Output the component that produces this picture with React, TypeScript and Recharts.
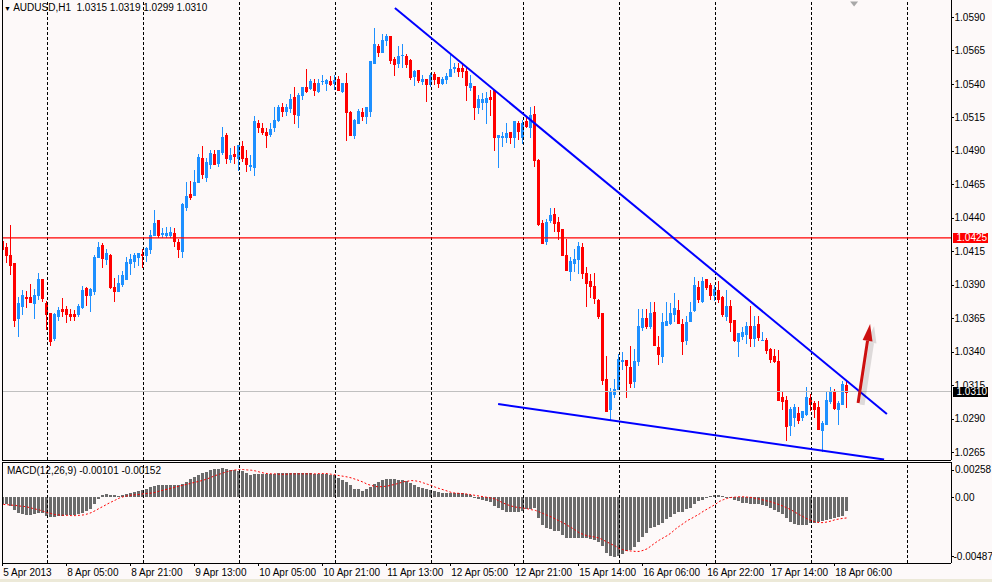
import React from 'react';
import { ComposedChart, Bar, Line, XAxis, YAxis, ReferenceLine, ReferenceDot } from 'recharts';

const FONT = '"Liberation Sans", Arial, sans-serif';
const BULL = '#1e90ff';
const BEAR = '#ff0000';
const BG = '#fdf9f9';
const FRAME = { stroke: '#000', shapeRendering: 'crispEdges' };

// AUDUSD H1 candles, oldest first
const opens = [
  1.0423, 1.04185, 1.0412, 1.04065, 1.0365, 1.03745, 1.0381, 1.0381, 1.0376, 1.03825,
  1.0394, 1.03765, 1.0369, 1.035, 1.0367, 1.0372, 1.0372, 1.03685, 1.0368, 1.0368,
  1.03735, 1.03875, 1.03825, 1.0385, 1.0411, 1.042, 1.0409, 1.04125, 1.03885, 1.0385,
  1.03905, 1.03945, 1.0406, 1.0408, 1.0411, 1.0413, 1.0412, 1.0417, 1.0427, 1.0438,
  1.0428, 1.0427, 1.0427, 1.0429, 1.0422, 1.04155, 1.0448, 1.0458, 1.0457, 1.0467,
  1.0485, 1.04705, 1.04805, 1.0488, 1.0481, 1.04895, 1.0502, 1.0484, 1.0488, 1.0485,
  1.0494, 1.0485, 1.0479, 1.0478, 1.0511, 1.0507, 1.0504, 1.05025, 1.05075, 1.0513,
  1.05225, 1.05195, 1.0522, 1.053, 1.0517, 1.0532, 1.0538, 1.0537, 1.0541, 1.0535,
  1.0542, 1.0541, 1.05425, 1.05405, 1.0544, 1.0535, 1.0541, 1.0519, 1.0502, 1.0511,
  1.0519, 1.0516, 1.052, 1.0556, 1.05685, 1.0564, 1.05725, 1.0576, 1.0559, 1.05555,
  1.05615, 1.0561, 1.0558, 1.0546, 1.05505, 1.05425, 1.05435, 1.054, 1.05475, 1.0545,
  1.05405, 1.05435, 1.0546, 1.0552, 1.0552, 1.0552, 1.055, 1.0538, 1.05385, 1.05225,
  1.05265, 1.05265, 1.053, 1.05355, 1.05, 1.05, 1.05, 1.0504, 1.05, 1.05105,
  1.05, 1.0512, 1.0508, 1.05175, 1.0483, 1.0436, 1.0423, 1.0438, 1.0443, 1.0437,
  1.04315, 1.0412, 1.04005, 1.04065, 1.0409, 1.04185, 1.03985, 1.0393, 1.0389, 1.03785,
  1.0369, 1.03195, 1.0297, 1.03085, 1.0312, 1.0333, 1.03335, 1.03285, 1.0318, 1.0333,
  1.03585, 1.03655, 1.03595, 1.03695, 1.03435, 1.03365, 1.036, 1.03615, 1.03685, 1.03715,
  1.03605, 1.0349, 1.0363, 1.0371, 1.03885, 1.0378, 1.0394, 1.03895, 1.0382, 1.0386,
  1.03805, 1.0367, 1.0374, 1.03635, 1.0348, 1.0352, 1.0353, 1.0359, 1.03505, 1.03605,
  1.03485, 1.03485, 1.0342, 1.03365, 1.0333, 1.03065, 1.0304, 1.02855, 1.02915, 1.0294,
  1.0291, 1.02935, 1.03055, 1.0302, 1.02985, 1.02815, 1.0286, 1.0303, 1.03105, 1.02975,
  1.0301, 1.0315,
];

const highs = [
  1.0425, 1.0421, 1.0435, 1.04065, 1.03805, 1.0386, 1.03855, 1.03905, 1.0387, 1.03985,
  1.0394, 1.0378, 1.0369, 1.0369, 1.03735, 1.038, 1.0374, 1.0372, 1.0371, 1.03755,
  1.0389, 1.0388, 1.03875, 1.0412, 1.0422, 1.0421, 1.0417, 1.0413, 1.0395, 1.0397,
  1.04005, 1.04105, 1.0413, 1.04135, 1.0414, 1.0417, 1.0418, 1.0431, 1.0446, 1.0438,
  1.04325, 1.0433, 1.04335, 1.04325, 1.0424, 1.0451, 1.0467, 1.04675, 1.0476, 1.0488,
  1.0494, 1.0485, 1.04905, 1.0491, 1.0491, 1.0508, 1.0503, 1.0492, 1.0494, 1.04945,
  1.04975, 1.0491, 1.0487, 1.0516, 1.0513, 1.05105, 1.0507, 1.0511, 1.0523, 1.0524,
  1.0526, 1.0525, 1.05325, 1.0538, 1.0533, 1.0538, 1.05515, 1.0544, 1.0544, 1.0544,
  1.0547, 1.0544, 1.0546, 1.0547, 1.0546, 1.0541, 1.05485, 1.052, 1.0514, 1.0521,
  1.0522, 1.05225, 1.05575, 1.0582, 1.057, 1.05775, 1.05775, 1.0576, 1.056, 1.05685,
  1.057, 1.0562, 1.05585, 1.05505, 1.05505, 1.05465, 1.05435, 1.0548, 1.0549, 1.05455,
  1.05455, 1.0548, 1.05615, 1.05555, 1.0556, 1.05555, 1.0553, 1.05465, 1.05385, 1.05315,
  1.05335, 1.0534, 1.05355, 1.05355, 1.05015, 1.0504, 1.05105, 1.0504, 1.05125, 1.05125,
  1.0513, 1.0516, 1.05225, 1.05235, 1.0484, 1.0438, 1.0439, 1.0447, 1.0447, 1.04405,
  1.0432, 1.04245, 1.0411, 1.04165, 1.0422, 1.0421, 1.04035, 1.0398, 1.03985, 1.0379,
  1.0369, 1.03365, 1.0313, 1.03195, 1.03385, 1.03395, 1.03335, 1.03445, 1.0342, 1.0372,
  1.0372, 1.0372, 1.0377, 1.0377, 1.0352, 1.0369, 1.0377, 1.03765, 1.03835, 1.03785,
  1.03645, 1.0367, 1.0377, 1.0396, 1.0393, 1.0396, 1.03945, 1.03915, 1.039, 1.0393,
  1.03815, 1.0386, 1.03785, 1.03635, 1.0354, 1.03585, 1.0362, 1.03745, 1.0367, 1.0367,
  1.03545, 1.03505, 1.0343, 1.0342, 1.0341, 1.031, 1.0307, 1.02985, 1.0301, 1.02985,
  1.02955, 1.03135, 1.03085, 1.03035, 1.03035, 1.02885, 1.031, 1.03135, 1.0312, 1.03035,
  1.0318, 1.0319,
];

const lows = [
  1.0414, 1.0407, 1.0398, 1.0359, 1.03518, 1.0368, 1.03735, 1.0377, 1.0365, 1.0379,
  1.03775, 1.0357, 1.0345, 1.0349, 1.03635, 1.0367, 1.03625, 1.03635, 1.0364, 1.0367,
  1.0373, 1.0375, 1.03705, 1.0383, 1.04105, 1.0403, 1.04055, 1.03875, 1.03775, 1.0385,
  1.0389, 1.0394, 1.0398, 1.0403, 1.0405, 1.0403, 1.0408, 1.0414, 1.0427, 1.0426,
  1.0426, 1.04255, 1.04255, 1.0419, 1.0411, 1.0411, 1.0446, 1.0454, 1.0457, 1.0467,
  1.047, 1.04675, 1.04775, 1.048, 1.0479, 1.0488, 1.0481, 1.0482, 1.0481, 1.0476,
  1.04825, 1.0475, 1.0476, 1.0472, 1.0504, 1.05025, 1.0493, 1.0501, 1.0505, 1.05125,
  1.0516, 1.0517, 1.0519, 1.0511, 1.05075, 1.0529, 1.0534, 1.0536, 1.0532, 1.0534,
  1.054, 1.05355, 1.05395, 1.0536, 1.05355, 1.0534, 1.0498, 1.0502, 1.04995, 1.0511,
  1.0513, 1.0511, 1.0516, 1.05555, 1.0561, 1.05635, 1.0569, 1.0556, 1.0547, 1.05525,
  1.05525, 1.0553, 1.05435, 1.0539, 1.05415, 1.054, 1.0527, 1.05385, 1.054, 1.0538,
  1.054, 1.0541, 1.0546, 1.0549, 1.0546, 1.05455, 1.0528, 1.05355, 1.05135, 1.05185,
  1.05215, 1.05105, 1.0517, 1.04905, 1.0478, 1.0494, 1.0497, 1.0496, 1.0493, 1.0499,
  1.0496, 1.0508, 1.05005, 1.04785, 1.0435, 1.04215, 1.04205, 1.0437, 1.043, 1.0424,
  1.0412, 1.0401, 1.03935, 1.04, 1.03985, 1.0395, 1.0374, 1.0381, 1.0376, 1.03655,
  1.0316, 1.02955, 1.0289, 1.0306, 1.0312, 1.0327, 1.0306, 1.03135, 1.03135, 1.033,
  1.0356, 1.0358, 1.0358, 1.0345, 1.0331, 1.03325, 1.036, 1.03605, 1.0363, 1.03615,
  1.03385, 1.0346, 1.0363, 1.03705, 1.0377, 1.0377, 1.0387, 1.0379, 1.03785, 1.0377,
  1.0367, 1.03635, 1.03555, 1.0348, 1.0337, 1.03495, 1.03465, 1.03445, 1.03445, 1.0349,
  1.03485, 1.0339, 1.0332, 1.0332, 1.0304, 1.0297, 1.0274, 1.0278, 1.02845, 1.0287,
  1.0289, 1.0293, 1.02965, 1.02915, 1.02825, 1.02655, 1.0286, 1.0302, 1.02975, 1.0286,
  1.0301, 1.0299,
];

const closes = [
  1.0417, 1.0412, 1.0405, 1.0364, 1.03765, 1.03825, 1.038, 1.0377, 1.03825, 1.0394,
  1.038, 1.0368, 1.0348, 1.0368, 1.0371, 1.03705, 1.03685, 1.0367, 1.0367, 1.03745,
  1.0386, 1.0382, 1.03865, 1.04105, 1.04185, 1.041, 1.04135, 1.03885, 1.03855, 1.03915,
  1.0397, 1.0407, 1.0409, 1.0412, 1.04135, 1.0412, 1.04175, 1.0427, 1.0436, 1.0427,
  1.0429, 1.0429, 1.04295, 1.04225, 1.0417, 1.045, 1.0456, 1.04555, 1.0467, 1.04855,
  1.04725, 1.0482, 1.04885, 1.04805, 1.0491, 1.05005, 1.0485, 1.0487, 1.0486, 1.04945,
  1.0485, 1.04805, 1.04795, 1.0512, 1.05075, 1.0504, 1.0502, 1.05065, 1.0513, 1.0523,
  1.052, 1.0523, 1.0529, 1.05175, 1.0532, 1.05375, 1.0535, 1.05425, 1.05355, 1.0541,
  1.05425, 1.0543, 1.054, 1.0543, 1.05355, 1.05405, 1.0519, 1.0502, 1.0513, 1.052,
  1.0516, 1.05225, 1.05575, 1.057, 1.0564, 1.05725, 1.05755, 1.0558, 1.0555, 1.0561,
  1.05615, 1.0555, 1.05455, 1.055, 1.0543, 1.0544, 1.054, 1.0547, 1.05435, 1.05405,
  1.05435, 1.0546, 1.05515, 1.05525, 1.055, 1.055, 1.0539, 1.05405, 1.05225, 1.05285,
  1.05285, 1.05295, 1.0529, 1.05, 1.05015, 1.0501, 1.05035, 1.05, 1.0512, 1.0505,
  1.0511, 1.05085, 1.05165, 1.0483, 1.04355, 1.04215, 1.0437, 1.0442, 1.0436, 1.043,
  1.0412, 1.0401, 1.0408, 1.0409, 1.0419, 1.03985, 1.03915, 1.0389, 1.038, 1.0367,
  1.0319, 1.02955, 1.031, 1.03125, 1.03345, 1.0334, 1.033, 1.03165, 1.0333, 1.0359,
  1.03655, 1.0359, 1.0369, 1.0345, 1.03385, 1.0362, 1.0363, 1.0369, 1.0373, 1.03615,
  1.0348, 1.03625, 1.03695, 1.03895, 1.0379, 1.0393, 1.03885, 1.0382, 1.03865, 1.0379,
  1.03685, 1.03745, 1.0362, 1.03485, 1.0354, 1.03545, 1.03595, 1.03505, 1.03595, 1.0351,
  1.0349, 1.03415, 1.03345, 1.0333, 1.0304, 1.0303, 1.02845, 1.02975, 1.02985, 1.0289,
  1.02955, 1.03065, 1.0301, 1.0297, 1.02825, 1.02865, 1.0304, 1.03105, 1.0298, 1.03015,
  1.03155, 1.031,
];

// MACD(12,26,9): main (histogram) and signal (dotted)
const macdMain = [
  -47e-5, -52e-5, -64e-5, -96e-5, -113e-5, -120e-5, -128e-5, -133e-5, -125e-5, -118e-5,
  -113e-5, -135e-5, -145e-5, -145e-5, -140e-5, -135e-5, -133e-5, -133e-5, -130e-5, -125e-5,
  -118e-5, -101e-5, -84e-5, -47e-5, -15e-5, 17e-5, 27e-5, 15e-5, 15e-5, 12e-5,
  17e-5, 22e-5, 30e-5, 37e-5, 47e-5, 54e-5, 61e-5, 74e-5, 86e-5, 93e-5,
  93e-5, 93e-5, 93e-5, 91e-5, 89e-5, 101e-5, 116e-5, 135e-5, 150e-5, 170e-5,
  180e-5, 189e-5, 204e-5, 209e-5, 214e-5, 219e-5, 214e-5, 207e-5, 204e-5, 199e-5,
  194e-5, 182e-5, 170e-5, 175e-5, 177e-5, 177e-5, 177e-5, 177e-5, 177e-5, 180e-5,
  180e-5, 182e-5, 182e-5, 180e-5, 180e-5, 180e-5, 180e-5, 180e-5, 177e-5, 177e-5,
  177e-5, 177e-5, 165e-5, 165e-5, 145e-5, 133e-5, 116e-5, 89e-5, 64e-5, 59e-5,
  47e-5, 59e-5, 76e-5, 96e-5, 116e-5, 128e-5, 140e-5, 138e-5, 135e-5, 133e-5,
  128e-5, 120e-5, 108e-5, 89e-5, 79e-5, 71e-5, 59e-5, 54e-5, 47e-5, 37e-5,
  30e-5, 30e-5, 30e-5, 32e-5, 32e-5, 30e-5, 27e-5, 15e-5, -7e-5, -15e-5,
  -22e-5, -27e-5, -32e-5, -64e-5, -81e-5, -96e-5, -106e-5, -108e-5, -108e-5, -108e-5,
  -101e-5, -84e-5, -89e-5, -81e-5, -150e-5, -204e-5, -224e-5, -236e-5, -248e-5, -253e-5,
  -280e-5, -302e-5, -302e-5, -298e-5, -302e-5, -302e-5, -302e-5, -310e-5, -317e-5, -334e-5,
  -364e-5, -416e-5, -433e-5, -445e-5, -433e-5, -420e-5, -401e-5, -391e-5, -371e-5, -334e-5,
  -293e-5, -266e-5, -229e-5, -219e-5, -204e-5, -187e-5, -162e-5, -143e-5, -125e-5, -108e-5,
  -106e-5, -89e-5, -76e-5, -52e-5, -27e-5, -20e-5, -7e-5, 7e-5, 17e-5, 17e-5,
  12e-5, 5e-5, -5e-5, -17e-5, -27e-5, -39e-5, -44e-5, -47e-5, -52e-5, -52e-5,
  -57e-5, -64e-5, -76e-5, -91e-5, -106e-5, -125e-5, -155e-5, -182e-5, -194e-5, -204e-5,
  -204e-5, -202e-5, -192e-5, -187e-5, -180e-5, -172e-5, -165e-5, -157e-5, -150e-5, -143e-5,
  -138e-5, -101e-5,
];

const macdSignal = [
  -52e-5, -54e-5, -57e-5, -59e-5, -64e-5, -66e-5, -71e-5, -79e-5, -86e-5, -93e-5,
  -103e-5, -113e-5, -120e-5, -128e-5, -130e-5, -133e-5, -133e-5, -135e-5, -135e-5, -133e-5,
  -130e-5, -123e-5, -113e-5, -98e-5, -81e-5, -66e-5, -49e-5, -34e-5, -20e-5, -5e-5,
  5e-5, 12e-5, 17e-5, 20e-5, 22e-5, 27e-5, 30e-5, 32e-5, 37e-5, 47e-5,
  54e-5, 61e-5, 69e-5, 76e-5, 84e-5, 91e-5, 98e-5, 106e-5, 113e-5, 120e-5,
  128e-5, 138e-5, 150e-5, 162e-5, 172e-5, 182e-5, 192e-5, 199e-5, 204e-5, 207e-5,
  207e-5, 204e-5, 202e-5, 197e-5, 189e-5, 182e-5, 177e-5, 175e-5, 175e-5, 172e-5,
  172e-5, 172e-5, 175e-5, 175e-5, 175e-5, 175e-5, 175e-5, 175e-5, 175e-5, 177e-5,
  177e-5, 177e-5, 172e-5, 167e-5, 162e-5, 157e-5, 152e-5, 145e-5, 135e-5, 125e-5,
  113e-5, 98e-5, 89e-5, 81e-5, 79e-5, 81e-5, 84e-5, 91e-5, 98e-5, 106e-5,
  116e-5, 120e-5, 125e-5, 123e-5, 118e-5, 108e-5, 98e-5, 89e-5, 76e-5, 66e-5,
  57e-5, 47e-5, 37e-5, 32e-5, 30e-5, 27e-5, 25e-5, 20e-5, 15e-5, 10e-5,
  5e-5, 0, -5e-5, -12e-5, -27e-5, -42e-5, -54e-5, -64e-5, -71e-5, -76e-5,
  -79e-5, -84e-5, -91e-5, -96e-5, -108e-5, -120e-5, -133e-5, -145e-5, -160e-5, -175e-5,
  -189e-5, -207e-5, -224e-5, -243e-5, -263e-5, -275e-5, -285e-5, -290e-5, -295e-5, -302e-5,
  -317e-5, -332e-5, -347e-5, -361e-5, -379e-5, -389e-5, -396e-5, -398e-5, -401e-5, -401e-5,
  -393e-5, -381e-5, -359e-5, -337e-5, -317e-5, -300e-5, -283e-5, -263e-5, -236e-5, -214e-5,
  -194e-5, -172e-5, -157e-5, -140e-5, -123e-5, -103e-5, -86e-5, -69e-5, -52e-5, -30e-5,
  -17e-5, -7e-5, 0, 2e-5, 5e-5, 5e-5, 2e-5, 0, -7e-5, -12e-5,
  -20e-5, -27e-5, -34e-5, -44e-5, -54e-5, -66e-5, -79e-5, -93e-5, -111e-5, -128e-5,
  -143e-5, -160e-5, -172e-5, -182e-5, -187e-5, -187e-5, -182e-5, -175e-5, -165e-5, -160e-5,
  -155e-5, -152e-5,
];

// time axis: bar index of each label
const timeTickBars = [0, 16, 32, 48, 64, 80, 96, 112, 128, 144, 160, 176, 192, 208];
const timeTickLabels = [
  '5 Apr 2013', '8 Apr 05:00', '8 Apr 21:00', '9 Apr 13:00', '10 Apr 05:00', '10 Apr 21:00',
  '11 Apr 13:00', '12 Apr 05:00', '12 Apr 21:00', '15 Apr 14:00', '16 Apr 06:00',
  '16 Apr 22:00', '17 Apr 14:00', '18 Apr 06:00',
];
const gridBars = [11, 35, 59, 83, 107, 130, 154, 178, 202, 226];

const priceTicks = [
  1.0265, 1.029, 1.0315, 1.034, 1.0365, 1.039, 1.0415, 1.044, 1.0465, 1.049, 1.0515, 1.054,
  1.0565, 1.059,
];
const resistanceLevel = 1.0425;
const lastClose = closes[closes.length - 1];

const macdTicks = [0.00258, 0, -0.00487];
const macdTickLabels = ['0.00258', '0.00', '-0.00487'];

// hand-drawn objects, in bar index / price
const upperTrend = [{ x: 97.9, y: 1.05967 }, { x: 220.9, y: 1.02934 }];
const lowerTrend = [{ x: 123.7, y: 1.03009 }, { x: 220.2, y: 1.02594 }];
const arrowSegment = [{ x: 213.7, y: 1.03017 }, { x: 216.7, y: 1.03607 }];
const shiftMarker = { x: 212.7, y: 1.05997 };

const xDomain = [-0.325, 236.925];
const priceDomain = [1.02591, 1.06027];
const macdDomain = [-0.00487, 0.00263];

const rows = closes.map((close, i) => ({
  i,
  open: opens[i],
  high: highs[i],
  low: lows[i],
  close,
  range: [lows[i], highs[i]],
  macd: macdMain[i],
  signal: macdSignal[i],
}));

function Candle(props: any) {
  const { x, y, width, height, payload } = props;
  if (x == null || y == null || !payload) return null;
  const { open, close, high, low } = payload;
  const top = Math.min(y, y + height);
  const bottom = Math.max(y, y + height);
  const span = high - low;
  const toY = (p: number) => (span === 0 ? top : top + ((high - p) / span) * (bottom - top));
  const color = close >= open ? BULL : BEAR;
  const x0 = Math.round(x + width / 2 - 1.5);
  const wt = Math.round(top);
  const wb = Math.round(bottom);
  const b1 = Math.round(toY(Math.max(open, close)));
  const b2 = Math.round(toY(Math.min(open, close)));
  return (
    <g shapeRendering="crispEdges">
      <rect x={x0 + 1} y={wt} width={1} height={Math.max(1, wb - wt + 1)} fill={color} />
      <rect x={x0} y={b1} width={3} height={Math.max(1, b2 - b1 + 1)} fill={color} />
    </g>
  );
}

function MacdBar(props: any) {
  const { x, y, width, height } = props;
  if (x == null || y == null) return null;
  const top = Math.round(Math.min(y, y + height));
  const bottom = Math.round(Math.max(y, y + height));
  const x0 = Math.round(x + width / 2 - 1.5);
  return (
    <rect x={x0} y={top} width={3} height={Math.max(1, bottom - top)} fill="#6b6b6b" shapeRendering="crispEdges" />
  );
}

function PriceTick(props: any) {
  const { x, y, payload } = props;
  const v = payload.value;
  const label = v.toFixed(4);
  const isLevel = Math.abs(v - resistanceLevel) < 1e-7;
  const isLast = Math.abs(v - lastClose) < 1e-7;
  if (isLevel || isLast) {
    return (
      <g>
        <rect x={x - 1} y={Math.round(y) - 5} width={35} height={10} fill={isLevel ? '#ff0000' : '#000000'} />
        <text x={x + 2.5} y={y + 3.6} fill="#ffffff" fontSize={10} fontFamily={FONT}>
          {label}
        </text>
      </g>
    );
  }
  const yy = Math.round(y) + 0.5;
  return (
    <g>
      <line x1={x - 3} x2={x} y1={yy} y2={yy} stroke="#000" />
      <text x={x + 0.5} y={y + 3.6} fill="#000" fontSize={10} fontFamily={FONT}>
        {label}
      </text>
    </g>
  );
}

function MacdTick(props: any) {
  const { x, y, payload } = props;
  const k = macdTicks.indexOf(payload.value);
  // MT4 pulls the extreme labels inside the window
  const shift = k === 0 ? 7 : k === macdTicks.length - 1 ? -7 : 0;
  const yy = Math.round(y + shift) + 0.5;
  return (
    <g>
      <line x1={x - 3} x2={x} y1={yy} y2={yy} stroke="#000" />
      <text x={payload.value < 0 ? x - 0.5 : x + 1} y={y + shift + 3.6} fill="#000" fontSize={10} fontFamily={FONT}>
        {macdTickLabels[k]}
      </text>
    </g>
  );
}

function TimeTick(props: any) {
  const { x, y, payload } = props;
  const k = timeTickBars.indexOf(payload.value);
  const xx = Math.round(x) - 0.5;
  return (
    <g>
      <line x1={xx} x2={xx} y1={y - 4} y2={y - 1} stroke="#000" />
      <text x={x} y={y + 9} fill="#000" fontSize={10} fontFamily={FONT}>
        {timeTickLabels[k]}
      </text>
    </g>
  );
}

function Arrow(props: any) {
  const { x1, y1, x2, y2 } = props;
  if (x1 == null) return null;
  const ang = Math.atan2(y2 - y1, x2 - x1);
  const head = 17;
  const half = 5;
  const bx = x2 - head * Math.cos(ang);
  const by = y2 - head * Math.sin(ang);
  const px = -Math.sin(ang) * half;
  const py = Math.cos(ang) * half;
  const draw = (dx: number, dy: number, color: string, w: number) => (
    <g>
      <line x1={x1 + dx} y1={y1 + dy} x2={bx + dx} y2={by + dy} stroke={color} strokeWidth={w} />
      <polygon
        points={`${x2 + dx},${y2 + dy} ${bx + px + dx},${by + py + dy} ${bx - px + dx},${by - py + dy}`}
        fill={color}
      />
    </g>
  );
  return (
    <g>
      {draw(4, 2, 'rgba(0,0,0,0.12)', 5)}
      {draw(0, 0, '#cc1010', 3)}
    </g>
  );
}

function ShiftMarker(props: any) {
  const { cx, cy } = props;
  if (cx == null) return null;
  return <polygon points={`${cx - 4},${cy - 2.5} ${cx + 4},${cy - 2.5} ${cx},${cy + 2.5}`} fill="#a8a8a8" />;
}

export default function App() {
  return (
    <div style={{ position: 'absolute', left: 0, top: 0, width: 992, height: 582, background: '#ece9d8', fontFamily: FONT }}>
      <div style={{ position: 'absolute', left: 0, top: 0, width: 992, height: 579, background: BG }} />

      <div style={{ position: 'absolute', left: 0, top: 0 }}>
        <ComposedChart width={992} height={461} data={rows} margin={{ top: 0, right: 0, bottom: 0, left: 0 }}>
          <XAxis
            xAxisId="x"
            type="number"
            dataKey="i"
            domain={xDomain}
            allowDataOverflow
            height={1}
            tick={false}
            tickLine={false}
            axisLine={FRAME}
          />
          <YAxis yAxisId="frame" orientation="left" width={2} domain={[0, 1]} tick={false} tickLine={false} axisLine={FRAME} />
          <YAxis
            yAxisId="p"
            orientation="right"
            width={41}
            type="number"
            domain={priceDomain}
            allowDataOverflow
            ticks={[...priceTicks, resistanceLevel, lastClose]}
            interval={0}
            tickLine={false}
            tickSize={3}
            tickMargin={0}
            tick={PriceTick}
            axisLine={FRAME}
          />
          {gridBars.map((b) => (
            <ReferenceLine key={b} xAxisId="x" yAxisId="p" x={b} stroke="#000" strokeDasharray="3 2" shapeRendering="crispEdges" />
          ))}
          <ReferenceLine xAxisId="x" yAxisId="p" y={lastClose} stroke="#c0c0c0" shapeRendering="crispEdges" />
          <ReferenceLine xAxisId="x" yAxisId="p" y={resistanceLevel} stroke="#ff0000" strokeWidth={1.2} />
          <Bar xAxisId="x" yAxisId="p" dataKey="range" barSize={3} shape={Candle} isAnimationActive={false} />
          <ReferenceLine xAxisId="x" yAxisId="p" segment={upperTrend} stroke="#0000ff" strokeWidth={2} ifOverflow="visible" />
          <ReferenceLine xAxisId="x" yAxisId="p" segment={lowerTrend} stroke="#0000ff" strokeWidth={2} ifOverflow="visible" />
          <ReferenceLine xAxisId="x" yAxisId="p" segment={arrowSegment} shape={Arrow} ifOverflow="visible" />
          <ReferenceDot xAxisId="x" yAxisId="p" x={shiftMarker.x} y={shiftMarker.y} shape={ShiftMarker} ifOverflow="visible" />
        </ComposedChart>
      </div>

      <div style={{ position: 'absolute', left: 0, top: 461 }}>
        <ComposedChart width={992} height={118} data={rows} margin={{ top: 0, right: 0, bottom: 0, left: 0 }}>
          <XAxis
            xAxisId="top"
            orientation="top"
            type="number"
            dataKey="i"
            domain={xDomain}
            allowDataOverflow
            height={1}
            tick={false}
            tickLine={false}
            axisLine={FRAME}
          />
          <XAxis
            xAxisId="b"
            type="number"
            dataKey="i"
            domain={xDomain}
            allowDataOverflow
            ticks={timeTickBars}
            interval={0}
            height={16}
            tickLine={false}
            tickSize={4}
            tickMargin={0}
            tick={TimeTick}
            axisLine={FRAME}
          />
          <YAxis yAxisId="frame" orientation="left" width={2} domain={[0, 1]} tick={false} tickLine={false} axisLine={FRAME} />
          <YAxis
            yAxisId="m"
            orientation="right"
            width={41}
            type="number"
            domain={macdDomain}
            allowDataOverflow
            ticks={macdTicks}
            interval={0}
            tickLine={false}
            tickSize={3}
            tickMargin={0}
            tick={MacdTick}
            axisLine={FRAME}
          />
          {gridBars.map((b) => (
            <ReferenceLine key={b} xAxisId="b" yAxisId="m" x={b} stroke="#000" strokeDasharray="3 2" shapeRendering="crispEdges" />
          ))}
          <Bar xAxisId="b" yAxisId="m" dataKey="macd" barSize={3} shape={MacdBar} isAnimationActive={false} />
          <Line
            xAxisId="b"
            yAxisId="m"
            type="linear"
            dataKey="signal"
            stroke="#ff0000"
            strokeWidth={1}
            strokeDasharray="2 2"
            dot={false}
            isAnimationActive={false}
          />
        </ComposedChart>
      </div>

      <div style={{ position: 'absolute', left: 4, top: 2, fontSize: 10, lineHeight: '12px', color: '#000', whiteSpace: 'pre' }}>
        <span style={{ fontSize: 7 }}>▼</span> AUDUSD,H1  1.0315 1.0319 1.0299 1.0310
      </div>
      <div style={{ position: 'absolute', left: 7, top: 465, fontSize: 10, lineHeight: '12px', color: '#000', whiteSpace: 'pre' }}>
        MACD(12,26,9) -0.00101 -0.00152
      </div>
    </div>
  );
}
